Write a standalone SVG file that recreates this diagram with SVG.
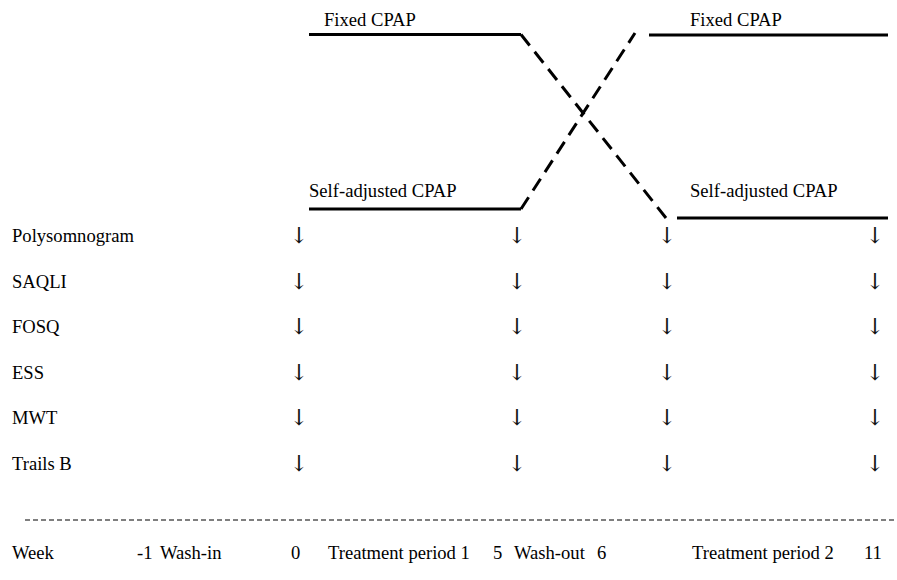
<svg xmlns="http://www.w3.org/2000/svg" width="897" height="580" viewBox="0 0 897 580">
<style>
text{font-family:"Liberation Serif","Times New Roman",serif;font-size:18.6px;fill:#000}
.arr{text-anchor:middle;font-family:"DejaVu Serif","DejaVu Sans",serif;font-size:22px;fill:#111}
.solid{stroke:#000;stroke-width:3;fill:none}
.dash{stroke:#000;stroke-width:3;fill:none;stroke-dasharray:14 8}
.axis{stroke:#555;stroke-width:1.6;stroke-dasharray:5 3;fill:none}
</style>
<rect width="897" height="580" fill="#fff"/>
<g id="connectors">
<line class="solid" x1="309" y1="34.5" x2="521" y2="34.5"/>
<line class="solid" x1="649" y1="35" x2="888" y2="35"/>
<line class="solid" x1="309" y1="209" x2="521" y2="209"/>
<line class="solid" x1="677" y1="218" x2="888" y2="218"/>
<line class="dash" x1="521" y1="34.5" x2="666" y2="218"/>
<line class="dash" x1="521" y1="209" x2="635" y2="33"/>
<line class="axis" x1="25" y1="520" x2="895" y2="520"/>
</g>
<g id="arm-labels">
<text x="324" y="26">Fixed CPAP</text>
<text x="690" y="26">Fixed CPAP</text>
<text x="309" y="197">Self-adjusted CPAP</text>
<text x="690" y="197">Self-adjusted CPAP</text>
</g>
<g id="measure-labels">
<text x="12" y="242">Polysomnogram</text>
<text x="12" y="287.5">SAQLI</text>
<text x="12" y="333">FOSQ</text>
<text x="12" y="378.5">ESS</text>
<text x="12" y="424">MWT</text>
<text x="12" y="469.5">Trails B</text>
</g>
<g id="arrows">
<text class="arr" x="299" y="243">↓</text><text class="arr" x="517" y="243">↓</text><text class="arr" x="667" y="243">↓</text><text class="arr" x="875" y="243">↓</text>
<text class="arr" x="299" y="288.5">↓</text><text class="arr" x="517" y="288.5">↓</text><text class="arr" x="667" y="288.5">↓</text><text class="arr" x="875" y="288.5">↓</text>
<text class="arr" x="299" y="334">↓</text><text class="arr" x="517" y="334">↓</text><text class="arr" x="667" y="334">↓</text><text class="arr" x="875" y="334">↓</text>
<text class="arr" x="299" y="379.5">↓</text><text class="arr" x="517" y="379.5">↓</text><text class="arr" x="667" y="379.5">↓</text><text class="arr" x="875" y="379.5">↓</text>
<text class="arr" x="299" y="425">↓</text><text class="arr" x="517" y="425">↓</text><text class="arr" x="667" y="425">↓</text><text class="arr" x="875" y="425">↓</text>
<text class="arr" x="299" y="470.5">↓</text><text class="arr" x="517" y="470.5">↓</text><text class="arr" x="667" y="470.5">↓</text><text class="arr" x="875" y="470.5">↓</text>
</g>
<g id="timeline">
<text x="12" y="559">Week</text>
<text x="137" y="559">-1</text>
<text x="160" y="559">Wash-in</text>
<text x="291" y="559">0</text>
<text x="328" y="559">Treatment period 1</text>
<text x="493" y="559">5</text>
<text x="514" y="559">Wash-out</text>
<text x="597" y="559">6</text>
<text x="692" y="559">Treatment period 2</text>
<text x="864" y="559">11</text>
</g>
</svg>
